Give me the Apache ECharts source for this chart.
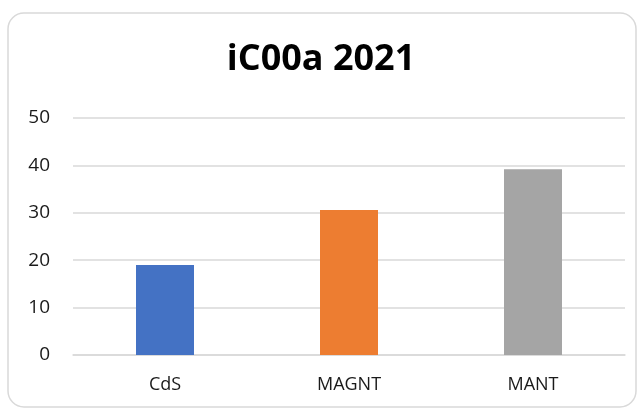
<!DOCTYPE html>
<html>
<head>
<meta charset="utf-8">
<script src="https://cdn.jsdelivr.net/npm/echarts@6/dist/echarts.min.js"></script>
<style>
  html, body { margin: 0; padding: 0; background: #fff; }
  #main { width: 642px; height: 409px; }
</style>
</head>
<body>
<div id="main"></div>
<script>
  var titleText = 'iC00a 2021';
  var categories = ['CdS', 'MAGNT', 'MANT'];
  var values = [19.0, 30.6, 39.2];
  var barColors = ['#4472C4', '#ED7D31', '#A5A5A5'];

  var myChart = echarts.init(document.getElementById('main'));

  myChart.setOption({
    animation: false,
    textStyle: { fontFamily: '"Open Sans", sans-serif' },
    title: {
      text: titleText,
      left: 'center',
      top: 37,
      textStyle: {
        fontSize: 36,
        fontWeight: 'bold',
        color: '#000',
        fontFamily: '"Open Sans", sans-serif'
      }
    },
    graphic: [{
      type: 'rect',
      shape: { x: 8, y: 13, width: 628, height: 394, r: 16 },
      style: { fill: 'none', stroke: '#d9d9d9', lineWidth: 1.5 },
      silent: true
    }],
    grid: { left: 73, right: 17, top: 118, bottom: 54 },
    xAxis: {
      type: 'category',
      data: categories,
      axisTick: { show: false },
      axisLine: { lineStyle: { color: '#d9d9d9', width: 1.5 } },
      axisLabel: { color: '#1a1a1a', fontSize: 18, margin: 21 }
    },
    yAxis: {
      type: 'value',
      min: 0,
      max: 50,
      interval: 10,
      axisLine: { show: false },
      axisTick: { show: false },
      splitLine: { lineStyle: { color: '#d9d9d9', width: 1.5 } },
      axisLabel: { color: '#1a1a1a', fontSize: 19, margin: 23 }
    },
    series: [{
      type: 'bar',
      barWidth: 58,
      data: values.map(function (v, i) {
        return { value: v, itemStyle: { color: barColors[i] } };
      })
    }]
  });
</script>
</body>
</html>
